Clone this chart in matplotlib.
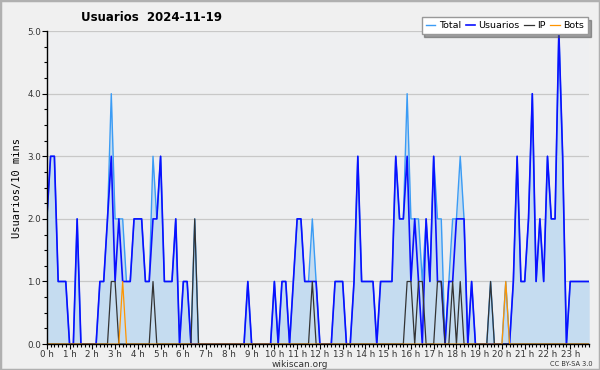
"""Usuarios 2024-11-19 - wikiscan style activity chart (10 min steps)"""

import numpy as np
import matplotlib

matplotlib.use("Agg")
import matplotlib.pyplot as plt
from matplotlib.patches import Rectangle
from matplotlib.ticker import MultipleLocator

# values every 10 minutes, 12 per row = 2 hours
usuarios = [
    2, 3, 3, 1, 1, 1, 0, 0, 2, 0, 0, 0,
    0, 0, 1, 1, 2, 3, 1, 2, 1, 1, 1, 2,
    2, 2, 1, 1, 2, 2, 3, 1, 1, 1, 2, 0,
    1, 1, 0, 0, 0, 0, 0, 0, 0, 0, 0, 0,
    0, 0, 0, 0, 0, 1, 0, 0, 0, 0, 0, 0,
    1, 0, 1, 1, 0, 1, 2, 2, 1, 1, 1, 1,
    0, 0, 0, 0, 1, 1, 1, 0, 0, 1, 3, 1,
    1, 1, 1, 0, 1, 1, 1, 1, 3, 2, 2, 3,
    1, 2, 1, 0, 2, 1, 3, 1, 1, 0, 1, 1,
    2, 2, 2, 0, 1, 0, 0, 0, 0, 0, 0, 0,
    0, 0, 0, 1, 3, 1, 1, 2, 4, 1, 2, 1,
    3, 2, 2, 5, 3, 0, 1, 1, 1, 1, 1, 1,
]
ip = [
    0, 0, 0, 0, 0, 0, 0, 0, 0, 0, 0, 0,
    0, 0, 0, 0, 0, 1, 1, 0, 0, 0, 0, 0,
    0, 0, 0, 0, 1, 0, 0, 0, 0, 0, 0, 0,
    0, 0, 0, 2, 0, 0, 0, 0, 0, 0, 0, 0,
    0, 0, 0, 0, 0, 0, 0, 0, 0, 0, 0, 0,
    0, 0, 0, 0, 0, 0, 0, 0, 0, 0, 1, 0,
    0, 0, 0, 0, 0, 0, 0, 0, 0, 0, 0, 0,
    0, 0, 0, 0, 0, 0, 0, 0, 0, 0, 0, 1,
    1, 0, 1, 1, 0, 0, 0, 1, 1, 0, 0, 1,
    0, 1, 0, 0, 0, 0, 0, 0, 0, 1, 0, 0,
    0, 0, 0, 0, 0, 0, 0, 0, 0, 0, 0, 0,
    0, 0, 0, 0, 0, 0, 0, 0, 0, 0, 0, 0,
]
bots = [
    0, 0, 0, 0, 0, 0, 0, 0, 0, 0, 0, 0,
    0, 0, 0, 0, 0, 0, 0, 0, 1, 0, 0, 0,
    0, 0, 0, 0, 0, 0, 0, 0, 0, 0, 0, 0,
    0, 0, 0, 0, 0, 0, 0, 0, 0, 0, 0, 0,
    0, 0, 0, 0, 0, 0, 0, 0, 0, 0, 0, 0,
    0, 0, 0, 0, 0, 0, 0, 0, 0, 0, 0, 0,
    0, 0, 0, 0, 0, 0, 0, 0, 0, 0, 0, 0,
    0, 0, 0, 0, 0, 0, 0, 0, 0, 0, 0, 0,
    0, 0, 0, 0, 0, 0, 0, 0, 0, 0, 0, 0,
    0, 0, 0, 0, 0, 0, 0, 0, 0, 0, 0, 0,
    0, 1, 0, 0, 0, 0, 0, 0, 0, 0, 0, 0,
    0, 0, 0, 0, 0, 0, 0, 0, 0, 0, 0, 0,
]
total = [
    2, 3, 3, 1, 1, 1, 0, 0, 2, 0, 0, 0,
    0, 0, 1, 1, 2, 4, 2, 2, 2, 1, 1, 2,
    2, 2, 1, 1, 3, 2, 3, 1, 1, 1, 2, 0,
    1, 1, 0, 2, 0, 0, 0, 0, 0, 0, 0, 0,
    0, 0, 0, 0, 0, 1, 0, 0, 0, 0, 0, 0,
    1, 0, 1, 1, 0, 1, 2, 2, 1, 1, 2, 1,
    0, 0, 0, 0, 1, 1, 1, 0, 0, 1, 3, 1,
    1, 1, 1, 0, 1, 1, 1, 1, 3, 2, 2, 4,
    2, 2, 2, 1, 2, 1, 3, 2, 2, 0, 1, 2,
    2, 3, 2, 0, 1, 0, 0, 0, 0, 1, 0, 0,
    0, 1, 0, 1, 3, 1, 1, 2, 4, 1, 2, 1,
    3, 2, 2, 5, 3, 0, 1, 1, 1, 1, 1, 1,
]
hour_labels = [f"{h} h" for h in range(24)]

x = np.arange(len(total)) / 6.0

fig = plt.figure(figsize=(6, 3.7), dpi=100, facecolor="#f0f0f0")
fig.patches.append(
    Rectangle((0, 0), 1, 1, transform=fig.transFigure, fill=False,
              edgecolor="#b0b0b0", linewidth=2.5)
)
ax = fig.add_axes([0.078, 0.070, 0.904, 0.846])
ax.set_facecolor("#eeeff1")

ax.fill_between(x, total, color="#c5dcf0", linewidth=0)
ax.plot(x, total, color="#3b9cf5", linewidth=1.0, label="Total")
ax.plot(x, usuarios, color="#0a10ff", linewidth=1.2, label="Usuarios")
ax.plot(x, ip, color="#333333", linewidth=0.9, label="IP")
ax.plot(x, bots, color="#ff9500", linewidth=0.9, label="Bots")

ax.set_xlim(0, x[-1])
ax.set_ylim(0, 5)
ax.set_xticks(range(24))
ax.set_xticklabels(hour_labels)
ax.xaxis.set_minor_locator(MultipleLocator(1 / 6))
ax.yaxis.set_major_locator(MultipleLocator(1))
ax.yaxis.set_minor_locator(MultipleLocator(0.25))
ax.yaxis.set_major_formatter(lambda v, p: f"{v:.1f}")
ax.tick_params(axis="both", which="major", length=3.5, width=0.8,
               labelsize=6.3, labelcolor="#333333", pad=0.5)
ax.tick_params(axis="both", which="minor", length=2.5, width=0.8)
ax.grid(axis="y", color="#c8c8c8", linewidth=0.9)
ax.set_axisbelow(True)
for side in ("top", "right"):
    ax.spines[side].set_visible(False)
for side in ("left", "bottom"):
    ax.spines[side].set_linewidth(1.0)

ax.set_ylabel("Usuarios/10 mins", fontsize=7.5, family="DejaVu Sans Mono",
              labelpad=4)

fig.text(0.253, 0.953, "Usuarios  2024-11-19", ha="center", va="center",
         fontsize=8.5, fontweight="bold")
ax.legend(loc="upper right", bbox_to_anchor=(0.998, 1.045), ncol=4,
          fontsize=6.8, frameon=True, fancybox=False, shadow=True,
          handlelength=1.0, handletextpad=0.35, columnspacing=0.5,
          borderpad=0.45, borderaxespad=0, edgecolor="#999999",
          framealpha=1)
fig.text(0.5, 0.016, "wikiscan.org", ha="center", va="center", fontsize=6.5,
         color="#333333")
fig.text(0.952, 0.016, "CC BY-SA 3.0", ha="center", va="center", fontsize=4.8,
         color="#333333")

plt.savefig("out.png", dpi=100, facecolor=fig.get_facecolor())
